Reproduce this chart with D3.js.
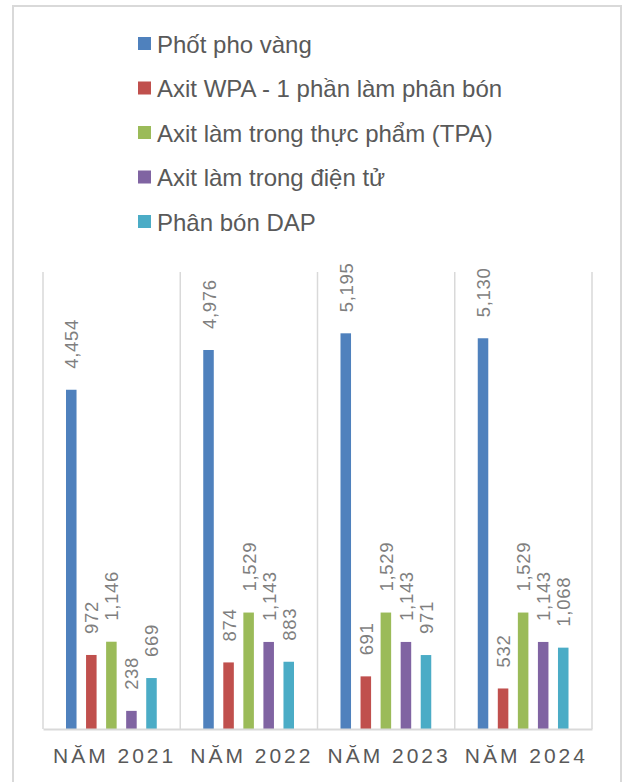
<!DOCTYPE html>
<html>
<head>
<meta charset="utf-8">
<script src="https://cdn.jsdelivr.net/npm/d3@7"></script>
<style>
  body { margin: 0; background: #fff; }
  text { font-family: "Liberation Sans", Arial, sans-serif; }
</style>
</head>
<body>
<script>
// chart data
const years = ["NĂM 2021", "NĂM 2022", "NĂM 2023", "NĂM 2024"];
const seriesNames = [
  "Phốt pho vàng",
  "Axit WPA - 1 phần làm phân bón",
  "Axit làm trong thực phẩm (TPA)",
  "Axit làm trong điện tử",
  "Phân bón DAP"
];
const phosphorus = [4454, 4976, 5195, 5130];
const wpa = [972, 874, 691, 532];
const tpa = [1146, 1529, 1529, 1529];
const electronic = [238, 1143, 1143, 1143];
const dap = [669, 883, 971, 1068];
const colors = ["#4f81bd", "#c0504d", "#9bbb59", "#8064a2", "#4bacc6"];

const allSeries = [phosphorus, wpa, tpa, electronic, dap];

const width = 627, height = 782;
const svg = d3.select("body").append("svg")
    .attr("width", width)
    .attr("height", height);

// outer chart frame (bottom runs off the picture)
svg.append("rect")
    .attr("x", 13).attr("y", 6)
    .attr("width", 608).attr("height", 800)
    .attr("fill", "none")
    .attr("stroke", "#d9d9d9")
    .attr("stroke-width", 2);

// legend
const legend = svg.append("g").attr("transform", "translate(138,44)");
seriesNames.forEach(function(name, i) {
  const row = legend.append("g").attr("transform", "translate(0," + (i * 44.5) + ")");
  row.append("rect")
      .attr("x", 0).attr("y", -7)
      .attr("width", 13).attr("height", 13)
      .attr("fill", colors[i]);
  row.append("text")
      .attr("x", 19).attr("y", 8.5)
      .attr("font-size", 24)
      .attr("fill", "#595959")
      .text(name);
});

// plot area
const plotLeft = 43, plotRight = 592, plotTop = 272, plotBottom = 729;

const x0 = d3.scaleBand()
    .domain(years)
    .range([plotLeft, plotRight])
    .paddingInner(0).paddingOuter(0);

const x1 = d3.scaleBand()
    .domain(d3.range(seriesNames.length))
    .range([23, x0.bandwidth() - 23.5])
    .paddingInner(0.475).paddingOuter(0);

const y = d3.scaleLinear()
    .domain([0, 6000])
    .range([plotBottom, plotTop]);

// vertical category separators
const seps = years.map(function(d) { return x0(d); }).concat([plotRight]);
svg.selectAll("line.sep")
    .data(seps)
    .enter().append("line")
      .attr("class", "sep")
      .attr("x1", function(d) { return d; })
      .attr("x2", function(d) { return d; })
      .attr("y1", plotTop)
      .attr("y2", plotBottom)
      .attr("stroke", "#d9d9d9")
      .attr("stroke-width", 1.5);

// bars
const groups = svg.selectAll("g.year")
    .data(years)
    .enter().append("g")
      .attr("class", "year")
      .attr("transform", function(d) { return "translate(" + x0(d) + ",0)"; });

groups.each(function(yr, yi) {
  const g = d3.select(this);
  const vals = allSeries.map(function(s, si) { return { si: si, v: s[yi] }; });

  g.selectAll("rect")
    .data(vals)
    .enter().append("rect")
      .attr("x", function(d) { return x1(d.si); })
      .attr("y", function(d) { return y(d.v); })
      .attr("width", x1.bandwidth())
      .attr("height", function(d) { return y(0) - y(d.v); })
      .attr("fill", function(d) { return colors[d.si]; });

  g.selectAll("text")
    .data(vals)
    .enter().append("text")
      .attr("transform", function(d) {
        return "translate(" + (x1(d.si) + x1.bandwidth() / 2 + 7) + "," + (y(d.v) - 21) + ") rotate(-90)";
      })
      .attr("font-size", 18.5)
      .attr("letter-spacing", 0.7)
      .attr("fill", "#7f7f7f")
      .text(function(d) { return d3.format(",")(d.v); });
});

// x axis
svg.append("g")
    .attr("transform", "translate(0," + plotBottom + ")")
    .call(d3.axisBottom(x0).tickSize(0).tickPadding(19))
    .call(function(g) {
      g.select(".domain").attr("stroke", "#d9d9d9").attr("stroke-width", 2);
      g.selectAll("text")
        .attr("font-size", 21)
        .attr("letter-spacing", 3)
        .attr("dx", 3)
        .attr("fill", "#595959")
        .attr("font-family", "Liberation Sans, Arial, sans-serif");
    });
</script>
</body>
</html>
